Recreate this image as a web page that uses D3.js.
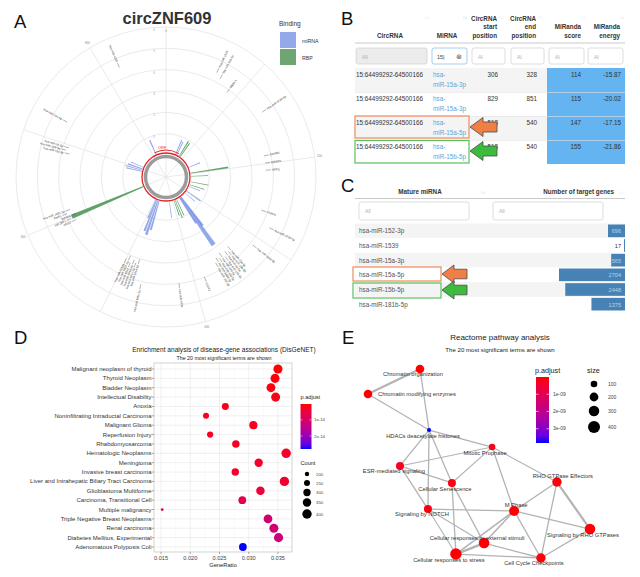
<!DOCTYPE html>
<html><head><meta charset="utf-8">
<script src="https://cdn.jsdelivr.net/npm/d3@7/dist/d3.min.js"></script>
<style>html,body{margin:0;padding:0;background:#fff}svg{display:block}</style>
</head><body>
<svg id="fig" width="640" height="577"></svg>
<script>
// ================= DATA =================
// Panel A: circZNF609 binding sites
const circLength = 874;
const bindPos   = [816, 56, 63, 78, 85, 163, 197, 214, 245, 262, 272, 303, 316, 347, 352, 357, 376, 384, 391, 418, 476, 483, 490, 495, 600, 687, 694, 702, 711];
const bindScore = [0.85,0.85,0.8,0.94,0.9,0.7,1.92,0.94,0.99,0.85,0.7,0.94,0.75,1.83,2.86,1.55,0.94,1.03,0.89,0.89,1.55,1.83,1.69,1.08,3.76,0.89,0.94,0.85,0.75];
const bindWidth = [5,4,4,4,4,4,4,3,3,3,3,4,3,5,8,4,3,3,3,3,5,6,5,4,6,4,4,4,3];
const bindType  = ["miRNA","miRNA","miRNA","RBP","RBP","miRNA","RBP","RBP","RBP","RBP","miRNA","miRNA","miRNA","miRNA","miRNA","miRNA","RBP","RBP","RBP","miRNA","miRNA","miRNA","miRNA","miRNA","RBP","miRNA","miRNA","miRNA","miRNA"];
const labPos  = [818, 63, 70, 87, 136, 189, 199, 209, 265, 282, 311, 336, 340, 344, 348, 352, 356, 360, 364, 386, 420, 469, 480, 484, 488, 492, 496, 500, 594, 598, 602, 606, 610, 688, 692, 696, 726];
const labR    = [4.83,4.69,4.5,4.13,4.69,3.94,3.94,3.94,3.98,4.64,4.41,3.6,3.8,3.7,3.9,3.6,3.8,3.7,3.9,4.27,4.27,4.41,3.3,3.5,3.4,3.6,3.3,3.5,3.9,4.1,3.8,4.2,4.0,3.9,4.1,4.0,4.55];
const labText = ["hsa-miR-4326","hsa-miR-1539","hsa-miR-15a-3p","MBNL1","hsa-miR-4722-5p","EWSR1","EWSR1","SFPQ","ESRP1","hsa-miR-4726-5p","hsa-miR-3162-5p",
  "hsa-miR-15a-5p","hsa-miR-15b-5p","hsa-miR-16-5p","hsa-miR-195-5p","hsa-miR-424-5p","hsa-miR-497-5p","hsa-miR-6838-5p","hsa-miR-152-3p",
  "CSTF2","hsa-miR-4770","hsa-miR-181b-5p","hsa-miR-181a-5p","hsa-miR-181c-5p","hsa-miR-181d-5p","hsa-miR-4262","hsa-miR-6830-5p","hsa-miR-3150b",
  "AGO2","IGF2BP1","EIF4A3","FMR1","hsa-miR-148a-3p","hsa-miR-15a-5p","hsa-miR-15b-5p","hsa-miR-16-5p","hsa-miR-424-5p"];
const bindingLegend = ["miRNA","RBP"];

// Panel B: miRanda table
const bCircRNA = ["15:64499292-64500166","15:64499292-64500166","15:64499292-64500166","15:64499292-64500166"];
const bMiRNA   = ["hsa-miR-15a-3p","hsa-miR-15a-3p","hsa-miR-15a-5p","hsa-miR-15b-5p"];
const bStart   = [306, 829, 518, 518];
const bEnd     = [328, 851, 540, 540];
const bScore   = [114, 115, 147, 155];
const bEnergy  = [-15.87, -20.02, -17.15, -21.86];

// Panel C: target genes table
const cMiRNA   = ["hsa-miR-152-3p","hsa-miR-1539","hsa-miR-15a-3p","hsa-miR-15a-5p","hsa-miR-15b-5p","hsa-miR-181b-5p"];
const cTargets = [696, 17, 565, 2704, 2448, 1375];

// Panel D: DisGeNET enrichment
const dTerms = ["Malignant neoplasm of thyroid","Thyroid Neoplasm","Bladder Neoplasm","Intellectual Disability","Anoxia","Noninfiltrating Intraductal Carcinoma","Malignant Glioma","Reperfusion Injury","Rhabdomyosarcoma","Hematologic Neoplasms","Meningioma","Invasive breast carcinoma","Liver and Intrahepatic Biliary Tract Carcinoma","Glioblastoma Multiforme","Carcinoma, Transitional Cell","Multiple malignancy","Triple Negative Breast Neoplasms","Renal carcinoma","Diabetes Mellitus, Experimental","Adenomatous Polyposis Coli"];
const dRatio = [0.0350,0.0345,0.0338,0.0346,0.0260,0.0227,0.0308,0.0234,0.0278,0.0364,0.0317,0.0277,0.0361,0.0320,0.0289,0.0152,0.0333,0.0343,0.0351,0.0290];
const dCount = [385,380,372,381,286,250,339,257,306,400,349,305,397,352,318,167,366,377,386,319];
const dPadj  = [2e-16,5e-16,1e-15,1.2e-15,1.5e-15,2e-15,2e-15,2.2e-15,2.5e-15,2.8e-15,3e-15,3.2e-15,3.5e-15,4.5e-15,7e-15,1.05e-14,1.1e-14,1.1e-14,1.2e-14,2.8e-14];
const dXTicks = [0.015, 0.020, 0.025, 0.030, 0.035];
const dPTicks = [1e-14, 2e-14];
const dCountTicks = [200, 250, 300, 350, 400];

// Panel E: Reactome network
const eTerms = ["Chromatin organization","Chromatin modifying enzymes","HDACs deacetylate histones","Mitotic Prophase","ESR-mediated signaling","Cellular Senescence","RHO GTPase Effectors","Signaling by NOTCH","M Phase","Signaling by RHO GTPases","Cellular responses to external stimuli","Cellular responses to stress","Cell Cycle Checkpoints"];
const eX    = [0.234, 0.0, 0.275, 0.559, 0.144, 0.378, 0.851, 0.270, 0.658, 1.0, 0.523, 0.396, 0.779];
const eY    = [0.0, 0.132, 0.323, 0.413, 0.513, 0.603, 0.598, 0.741, 0.751, 0.847, 0.921, 0.979, 1.0];
const eSize = [191, 191, 20, 100, 161, 161, 234, 161, 269, 306, 306, 358, 234];
const ePadj = [1e-11, 1e-11, 3.83e-9, 2e-10, 2.5e-10, 1.5e-10, 5e-11, 1e-10, 2e-11, 3e-11, 2e-11, 1e-11, 5e-11];
const eEdges = [[0,1,2.2],[0,2,1.3],[1,2,1.3],[2,3,1.3],[2,4,1.3],[2,7,1.3],[2,5,1.3],[4,3,1.1],[4,5,1.3],[4,7,1.3],[3,5,1.1],[3,8,1.3],[3,6,1.1],[5,11,1.3],[5,10,1.3],[7,10,1.1],[7,11,1.1],[7,8,1.3],[8,6,1.3],[8,9,1.3],[8,12,1.3],[8,10,1.5],[8,11,1.5],[6,9,2.2],[6,12,1.3],[9,12,1.3],[10,11,2.4],[11,12,1.3],[10,12,1.3]];
const ePTicks = [1e-9, 2e-9, 3e-9];
const eSizeTicks = [100, 200, 300, 400];

// ================= DRAWING =================
const FONT = '"Liberation Sans", Arial, Helvetica, sans-serif';
const svg = d3.select("#fig").style("font-family", FONT);
svg.append("rect").attr("width", 640).attr("height", 577).attr("fill", "#fff");
const defs = svg.append("defs");

function T(g, x, y, s, size, o = {}) {
  const t = g.append("text").attr("x", x).attr("y", y).attr("font-size", size).text(s)
    .attr("fill", o.fill || "#222");
  if (o.anchor) t.attr("text-anchor", o.anchor);
  if (o.weight) t.attr("font-weight", o.weight);
  if (o.rot !== undefined) t.attr("transform", `rotate(${o.rot},${x},${y})`);
  return t;
}

// panel letters
[["A",14,28],["B",341,25],["C",341,192],["D",14,344],["E",342,344]].forEach(([l,x,y]) => T(svg, x, y, l, 18.5, {fill:"#111"}));

// ---------- Panel A ----------
T(svg, 167, 24, "circZNF609", 16.5, {anchor:"middle", weight:"bold", fill:"#333"});
const A = svg.append("g").attr("transform", "translate(166,177)");
const ang = d3.scaleLinear().domain([0, circLength]).range([0, 2*Math.PI]);
const rad = d3.scaleLinear().domain([0, 6]).range([22, 150]);
const px = (p, r) => r*Math.sin(ang(p)), py = (p, r) => -r*Math.cos(ang(p));

A.selectAll(".gc").data(rad.ticks(6).filter(d => d > 0)).join("circle")
  .attr("r", d => rad(d)).attr("fill", "none").attr("stroke", "#e4e4e4").attr("stroke-width", 0.8);
const spokes = d3.range(0, circLength, 100);
A.selectAll(".sp").data(spokes).join("line")
  .attr("x1", 0).attr("y1", 0).attr("x2", d => px(d, rad(6))).attr("y2", d => py(d, rad(6)))
  .attr("stroke", "#e4e4e4").attr("stroke-width", 0.8);
A.selectAll(".spl").data(spokes.filter(d => d % 200 === 0)).join("text")
  .attr("x", d => px(d, d === 0 ? rad(6) - 4 : rad(6) + 5)).attr("y", d => py(d, d === 0 ? rad(6) - 4 : rad(6) + 5) + 1)
  .attr("text-anchor", "middle").attr("font-size", 3).attr("fill", "#888").text(d => d);
A.selectAll(".rtl").data(rad.ticks(6).filter(d => d > 0)).join("text")
  .attr("x", -12).attr("y", d => -rad(d) + 4).attr("text-anchor", "middle")
  .attr("font-size", 3).attr("fill", "#999").text(d => d);

const arcGen = d3.arc();
const bars = bindPos.map((p, i) => ({p, s: bindScore[i], w: bindWidth[i], t: bindType[i]}));
A.selectAll(".bar").data(bars).join("path")
  .attr("d", d => arcGen({innerRadius: 25, outerRadius: rad(d.s), startAngle: ang(d.p - d.w/2), endAngle: ang(d.p + d.w/2)}))
  .attr("fill", d => d.t === "miRNA" ? "#3d62d8" : "#3d8d47")
  .attr("fill-opacity", d => d.t === "miRNA" ? 0.55 : 0.8);

A.append("circle").attr("r", 20.5).attr("fill", "none").attr("stroke", "#9b9b9b").attr("stroke-width", 3.5);
A.append("circle").attr("r", 24).attr("fill", "none").attr("stroke", "#e0262b").attr("stroke-width", 1.3);
A.append("path").attr("d", arcGen({innerRadius: 26.3, outerRadius: 27.2, startAngle: -0.45, endAngle: 0.5})).attr("fill", "#e0262b");
T(A, -8, -28.5, "ORF", 4, {fill:"#e0262b"});

const labs = labPos.map((p, i) => ({p, r: rad(labR[i]), t: labText[i]}));
A.selectAll(".ll").data(labs).join("line")
  .attr("x1", d => px(d.p, d.r - 6)).attr("y1", d => py(d.p, d.r - 6))
  .attr("x2", d => px(d.p, d.r - 1)).attr("y2", d => py(d.p, d.r - 1))
  .attr("stroke", "#222").attr("stroke-width", 0.35);
A.selectAll(".lab").data(labs).join("text")
  .attr("transform", d => {
    const a = ang(d.p) * 180 / Math.PI;
    return `translate(${px(d.p, d.r)},${py(d.p, d.r)}) rotate(${a < 180 ? a - 90 : a + 90})`;
  })
  .attr("text-anchor", d => ang(d.p) < Math.PI ? "start" : "end")
  .attr("dy", "0.35em").attr("font-size", 2.9).attr("fill", "#333").text(d => d.t);

// legend
T(svg, 279, 26, "Binding", 6.5, {fill:"#333"});
const legCol = {miRNA: "#93a9e8", RBP: "#6da673"};
bindingLegend.forEach((k, i) => {
  svg.append("rect").attr("x", 280).attr("y", 32 + i*17).attr("width", 16).attr("height", 16).attr("fill", legCol[k]);
  T(svg, 302, 42.5 + i*17, k, 5.2, {fill:"#333"});
});

// ---------- Panel B ----------
const B = svg.append("g");
const bRow = d3.scaleBand().domain(d3.range(bMiRNA.length)).range([68, 164]);
B.selectAll(".bs").data(d3.range(bMiRNA.length)).join("rect")
  .attr("x", 355).attr("y", i => bRow(i)).attr("width", 270).attr("height", bRow.bandwidth())
  .attr("fill", i => i % 2 === 0 ? "#f4f4f4" : "#ffffff");
B.selectAll(".bh").data(d3.range(bMiRNA.length)).join("rect")
  .attr("x", 547).attr("y", i => bRow(i)).attr("width", 78).attr("height", bRow.bandwidth())
  .attr("fill", "#63b4f0");
B.selectAll(".bl").data(d3.range(1, bMiRNA.length)).join("line")
  .attr("x1", 355).attr("x2", 625).attr("y1", i => bRow(i) + 0.5).attr("y2", i => bRow(i) + 0.5)
  .attr("stroke", "#e2e2e2").attr("stroke-width", 0.6);
B.append("line").attr("x1", 355).attr("x2", 625).attr("y1", 43).attr("y2", 43).attr("stroke", "#bbb").attr("stroke-width", 0.8);
// headers
const HB = {fill:"#333", weight:"bold"};
T(B, 390, 37.5, "CircRNA", 6.3, {...HB, anchor:"middle"});
T(B, 447, 37.5, "MiRNA", 6.3, {...HB, anchor:"middle"});
[["CircRNA","start","position",497],["CircRNA","end","position",536]].forEach(([a,b,c,x]) => {
  T(B, x, 21, a, 6.3, {...HB, anchor:"end"});
  T(B, x, 29.3, b, 6.3, {...HB, anchor:"end"});
  T(B, x, 37.5, c, 6.3, {...HB, anchor:"end"});
});
[["MiRanda","score",581],["MiRanda","energy",620]].forEach(([a,b,x]) => {
  T(B, x, 29.3, a, 6.3, {...HB, anchor:"end"});
  T(B, x, 37.5, b, 6.3, {...HB, anchor:"end"});
});
[[427,"#ccc"],[465,"#999"],[501,"#ccc"],[540,"#ccc"],[583,"#ccc"],[622,"#ccc"]].forEach(([x,c]) =>
  T(B, x, 19, "↑↓", 4.5, {fill:c, anchor:"middle"}));
// filter boxes
[[356,71,true],[432,35,false],[472,33,false],[511,33,false],[549,35,false],[588,35,false]].forEach(([x,w,grey], i) => {
  B.append("rect").attr("x", x).attr("y", 48).attr("width", w).attr("height", 16).attr("rx", 2)
    .attr("fill", grey ? "#ececec" : "#fff").attr("stroke", i === 1 ? "#8fc0ec" : "#d4d4d4").attr("stroke-width", 0.8);
  if (i !== 1) T(B, x + 6, 58.5, i === 0 ? "All" : "Al", 5.2, {fill:"#b0b0b0"});
});
T(B, 437, 58.5, "15|", 5.5, {fill:"#444"});
T(B, 459, 59, "⊗", 7, {fill:"#555", anchor:"middle"});
// rows
const bRows = d3.range(bMiRNA.length);
B.selectAll(".bc").data(bRows).join("text").attr("x", 356).attr("y", i => bRow(i) + 8.5)
  .attr("font-size", 6.3).attr("fill", "#333").text(i => bCircRNA[i]);
B.selectAll(".bm1").data(bRows).join("text").attr("x", 433).attr("y", i => bRow(i) + 8.5)
  .attr("font-size", 6.3).attr("fill", "#5aa6d8").text(() => "hsa-");
B.selectAll(".bm2").data(bRows).join("text").attr("x", 433).attr("y", i => bRow(i) + 19)
  .attr("font-size", 6.3).attr("fill", "#5aa6d8").text(i => bMiRNA[i].replace("hsa-", ""));
[[bStart,498],[bEnd,537],[bScore,581],[bEnergy.map(v => v.toFixed(2)),621]].forEach(([arr,x]) => {
  B.selectAll(null).data(bRows).join("text").attr("x", x).attr("y", i => bRow(i) + 8.5)
    .attr("text-anchor", "end").attr("font-size", 6.3).attr("fill", "#333").text(i => arr[i]);
});

// highlight boxes + arrows
function arrow(g, tipX, cy, len, headLen, headH, shaftH, fill) {
  const pts = [[tipX, cy],[tipX + headLen, cy - headH],[tipX + headLen, cy - shaftH],[tipX + len, cy - shaftH],
               [tipX + len, cy + shaftH],[tipX + headLen, cy + shaftH],[tipX + headLen, cy + headH]];
  g.append("polygon").attr("points", pts.map(p => p.join(",")).join(" "))
    .attr("fill", fill).attr("stroke", "#4a4a4a").attr("stroke-width", 0.8);
}
const ORANGE = "#f07f45", GREEN = "#3dbb3d";
B.append("rect").attr("x", 355).attr("y", 116).attr("width", 114).attr("height", 22).attr("fill", "none").attr("stroke", "#ef8a5c").attr("stroke-width", 1.2);
B.append("rect").attr("x", 355).attr("y", 140.5).attr("width", 114).attr("height", 22.5).attr("fill", "none").attr("stroke", "#5cc05c").attr("stroke-width", 1.2);
arrow(B, 470, 127, 27, 13, 9.5, 5, ORANGE);
arrow(B, 470, 151, 27, 13, 9.5, 5, GREEN);

// ---------- Panel C ----------
const C = svg.append("g");
T(C, 420, 194, "Mature miRNA", 6.3, {...HB, anchor:"middle"});
T(C, 483, 194, "↑↓", 4.5, {fill:"#999", anchor:"middle"});
T(C, 614, 194, "Number of target genes", 6.3, {...HB, anchor:"end"});
T(C, 621, 194, "↑↓", 4.5, {fill:"#ccc", anchor:"middle"});
C.append("line").attr("x1", 355).attr("x2", 625).attr("y1", 198.5).attr("y2", 198.5).attr("stroke", "#bbb").attr("stroke-width", 0.8);
[[359,110],[493,110]].forEach(([x,w]) => {
  C.append("rect").attr("x", x).attr("y", 202).attr("width", w).attr("height", 18).attr("rx", 2)
    .attr("fill", "#fff").attr("stroke", "#d4d4d4").attr("stroke-width", 0.8);
  T(C, x + 6, 213, "All", 5.2, {fill:"#b0b0b0"});
});
const cRow = d3.scaleBand().domain(d3.range(cMiRNA.length)).range([223.5, 311.5]);
const cBar = d3.scaleLinear().domain([0, d3.max(cTargets)]).range([0, 66]);
const cRows = d3.range(cMiRNA.length);
C.selectAll(".cs").data(cRows).join("rect").attr("x", 355).attr("y", i => cRow(i)).attr("width", 270)
  .attr("height", cRow.bandwidth()).attr("fill", i => i % 2 === 0 ? "#f4f4f4" : "#fff");
C.selectAll(".cb").data(cRows).join("rect")
  .attr("x", i => 625 - Math.max(cBar(cTargets[i]), 1)).attr("y", i => cRow(i) + 1)
  .attr("width", i => Math.max(cBar(cTargets[i]), 1)).attr("height", cRow.bandwidth() - 2)
  .attr("fill", "#4682b4");
C.selectAll(".ct").data(cRows).join("text").attr("x", 359).attr("y", i => cRow(i) + 9.7)
  .attr("font-size", 6.3).attr("fill", "#555").text(i => cMiRNA[i]);
C.selectAll(".cv").data(cRows).join("text").attr("x", 621).attr("y", i => cRow(i) + 9.7)
  .attr("text-anchor", "end").attr("font-size", 5.6)
  .attr("fill", i => cBar(cTargets[i]) > 12 ? "#b9d3ec" : "#333").text(i => cTargets[i]);
C.append("rect").attr("x", 353).attr("y", 267).attr("width", 88).attr("height", 14).attr("fill", "none").attr("stroke", "#ef8a5c").attr("stroke-width", 1.2);
C.append("rect").attr("x", 353).attr("y", 283).attr("width", 88).attr("height", 15).attr("fill", "none").attr("stroke", "#5cc05c").attr("stroke-width", 1.2);
arrow(C, 442, 274, 25, 12, 9, 4.8, ORANGE);
arrow(C, 442, 290, 25, 12, 9, 4.8, GREEN);

// ---------- Panel D ----------
const D = svg.append("g");
T(D, 224, 352, "Enrichment analysis of disease-gene associations (DisGeNET)", 6.6, {anchor:"middle", fill:"#222"});
T(D, 224, 359.5, "The 20 most significant terms are shown", 5.3, {anchor:"middle", fill:"#222"});
const dX = d3.scaleLinear().domain([0.0138, 0.0374]).range([154, 292]);
const dY = d3.scalePoint().domain(dTerms).range([369, 547]);
D.append("rect").attr("x", 154).attr("y", 363).attr("width", 138).attr("height", 189).attr("fill", "#fff");
const dMinor = dXTicks.map(v => v + 0.0025).filter(v => v < 0.0374);
D.selectAll(".dmi").data(dMinor).join("line").attr("x1", d => dX(d)).attr("x2", d => dX(d)).attr("y1", 363).attr("y2", 552)
  .attr("stroke", "#f2f2f2").attr("stroke-width", 0.4);
D.selectAll(".dma").data(dXTicks).join("line").attr("x1", d => dX(d)).attr("x2", d => dX(d)).attr("y1", 363).attr("y2", 552)
  .attr("stroke", "#e6e6e6").attr("stroke-width", 0.6);
D.selectAll(".dhy").data(dTerms).join("line").attr("x1", 154).attr("x2", 292).attr("y1", d => dY(d)).attr("y2", d => dY(d))
  .attr("stroke", "#e6e6e6").attr("stroke-width", 0.6);
D.append("rect").attr("x", 154).attr("y", 363).attr("width", 138).attr("height", 189).attr("fill", "none").attr("stroke", "#b5b5b5").attr("stroke-width", 0.6);
const dColor = d3.scaleLinear().domain([d3.min(dPadj), d3.max(dPadj)]).range(["red", "blue"]).interpolate(d3.interpolateLab);
const dArea = d3.scaleLinear().domain([165, 400]).range([1.7, 22.1]);
const dR = c => Math.sqrt(dArea(c));
D.selectAll(".dpt").data(dTerms).join("circle")
  .attr("cx", (d, i) => dX(dRatio[i])).attr("cy", d => dY(d)).attr("r", (d, i) => dR(dCount[i]))
  .attr("fill", (d, i) => dColor(dPadj[i]));
D.selectAll(".dyl").data(dTerms).join("text").attr("x", 151.5).attr("y", d => dY(d) + 2)
  .attr("text-anchor", "end").attr("font-size", 6).attr("fill", "#333").text(d => d);
D.selectAll(".dyt").data(dTerms).join("line").attr("x1", 152).attr("x2", 154).attr("y1", d => dY(d)).attr("y2", d => dY(d)).attr("stroke", "#555").attr("stroke-width", 0.5);
D.selectAll(".dxt").data(dXTicks).join("line").attr("x1", d => dX(d)).attr("x2", d => dX(d)).attr("y1", 552).attr("y2", 554).attr("stroke", "#555").attr("stroke-width", 0.5);
D.selectAll(".dxl").data(dXTicks).join("text").attr("x", d => dX(d)).attr("y", 559.5)
  .attr("text-anchor", "middle").attr("font-size", 5.6).attr("fill", "#444").text(d => d.toFixed(3));
T(D, 223, 566.5, "GeneRatio", 5.8, {anchor:"middle", fill:"#222"});
// legend D
T(D, 300.5, 399, "p.adjust", 5.6, {fill:"#222"});
const gradD = defs.append("linearGradient").attr("id", "gD").attr("x1", 0).attr("x2", 0).attr("y1", 0).attr("y2", 1);
d3.range(0, 1.01, 0.1).forEach(t => gradD.append("stop").attr("offset", t).attr("stop-color", d3.interpolateLab("red", "blue")(t)));
D.append("rect").attr("x", 300.5).attr("y", 404).attr("width", 11).attr("height", 45).attr("fill", "url(#gD)");
const dBar = d3.scaleLinear().domain([d3.min(dPadj), d3.max(dPadj)]).range([404, 449]);
dPTicks.forEach(v => {
  D.append("line").attr("x1", 300.5).attr("x2", 302.5).attr("y1", dBar(v)).attr("y2", dBar(v)).attr("stroke", "#fff").attr("stroke-width", 0.5);
  D.append("line").attr("x1", 309.5).attr("x2", 311.5).attr("y1", dBar(v)).attr("y2", dBar(v)).attr("stroke", "#fff").attr("stroke-width", 0.5);
  T(D, 314, dBar(v) + 1.6, d3.format(".0e")(v), 4.3, {fill:"#444"});
});
T(D, 300.5, 465, "Count", 5.6, {fill:"#222"});
const dLegY = [474, 483, 492.5, 502.5, 514];
dCountTicks.forEach((v, i) => {
  D.append("circle").attr("cx", 307).attr("cy", dLegY[i]).attr("r", dR(v)).attr("fill", "#000");
  T(D, 316, dLegY[i] + 1.6, v, 4.3, {fill:"#444"});
});

// ---------- Panel E ----------
const E = svg.append("g");
T(E, 500, 340, "Reactome pathway analysis", 8, {anchor:"middle", fill:"#222"});
T(E, 500, 351.5, "The 20 most significant terms are shown", 6.1, {anchor:"middle", fill:"#222"});
const eXs = d3.scaleLinear().domain([0, 1]).range([368, 590]);
const eYs = d3.scaleLinear().domain([0, 1]).range([369, 558]);
const eArea = d3.scaleLinear().domain([100, 400]).range([10.9, 36]);
const eR = s => Math.sqrt(Math.max(eArea(s), 1));
const eColor = d3.scaleLinear().domain([5e-13, 3.83e-9]).range(["red", "blue"]).interpolate(d3.interpolateLab);
E.selectAll(".ee").data(eEdges).join("line")
  .attr("x1", d => eXs(eX[d[0]])).attr("y1", d => eYs(eY[d[0]]))
  .attr("x2", d => eXs(eX[d[1]])).attr("y2", d => eYs(eY[d[1]]))
  .attr("stroke", "#b3b3b3").attr("stroke-width", d => d[2]);
E.selectAll(".en").data(eTerms).join("circle")
  .attr("cx", (d, i) => eXs(eX[i])).attr("cy", (d, i) => eYs(eY[i])).attr("r", (d, i) => eR(eSize[i]))
  .attr("fill", (d, i) => eColor(ePadj[i]));
const eLabDx = [-7, 49, -6, -7, -6, -7, 6, -6, 2, -7, -7, -7, -7];
const eLabDy = [7, 2, 8, 8, 7, 8, -4, 7, -4, 8, -3, 8, 7];
E.selectAll(".el").data(eTerms).join("text")
  .attr("x", (d, i) => eXs(eX[i]) + eLabDx[i]).attr("y", (d, i) => eYs(eY[i]) + eLabDy[i])
  .attr("text-anchor", "middle").attr("font-size", 5.8).attr("fill", "#333").text(d => d);
// legends E
T(E, 535, 372.5, "p.adjust", 7.2, {fill:"#222"});
const gradE = defs.append("linearGradient").attr("id", "gE").attr("x1", 0).attr("x2", 0).attr("y1", 0).attr("y2", 1);
d3.range(0, 1.01, 0.1).forEach(t => gradE.append("stop").attr("offset", t).attr("stop-color", d3.interpolateLab("red", "blue")(t)));
E.append("rect").attr("x", 536).attr("y", 377).attr("width", 13).attr("height", 66).attr("fill", "url(#gE)");
const eBar = d3.scaleLinear().domain([5e-13, 3.83e-9]).range([377, 443]);
ePTicks.forEach(v => {
  E.append("line").attr("x1", 536).attr("x2", 538.5).attr("y1", eBar(v)).attr("y2", eBar(v)).attr("stroke", "#fff").attr("stroke-width", 0.6);
  E.append("line").attr("x1", 546.5).attr("x2", 549).attr("y1", eBar(v)).attr("y2", eBar(v)).attr("stroke", "#fff").attr("stroke-width", 0.6);
  T(E, 553, eBar(v) + 1.8, d3.format(".0e")(v).replace("e-", "e-0"), 5, {fill:"#444"});
});
T(E, 587, 373, "size", 7.2, {fill:"#222"});
const eLegY = [384, 397, 411, 427];
eSizeTicks.forEach((v, i) => {
  E.append("circle").attr("cx", 594).attr("cy", eLegY[i]).attr("r", eR(v)).attr("fill", "#000");
  T(E, 608, eLegY[i] + 1.8, v, 5, {fill:"#444"});
});
</script>
</body></html>
